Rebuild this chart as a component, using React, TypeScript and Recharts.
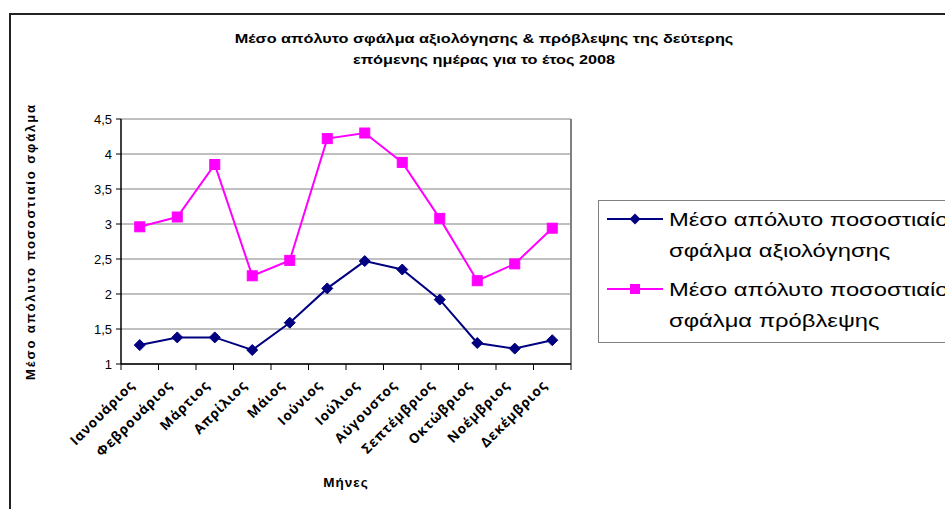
import React from 'react';
import {
  ComposedChart,
  Line,
  XAxis,
  YAxis,
  CartesianGrid,
  ReferenceLine,
  Legend,
} from 'recharts';

const months = [
  'Ιανουάριος',
  'Φεβρουάριος',
  'Μάρτιος',
  'Απρίλιος',
  'Μάιος',
  'Ιούνιος',
  'Ιούλιος',
  'Αύγουστος',
  'Σεπτέμβριος',
  'Οκτώβριος',
  'Νοέμβριος',
  'Δεκέμβριος',
];

const evaluationError = [1.27, 1.38, 1.38, 1.2, 1.59, 2.08, 2.47, 2.35, 1.92, 1.3, 1.22, 1.34];
const forecastError = [2.96, 3.1, 3.85, 2.26, 2.48, 4.22, 4.3, 3.88, 3.08, 2.19, 2.43, 2.94];

const yTicks = [1, 1.5, 2, 2.5, 3, 3.5, 4, 4.5];
const boundaryTicks = [0, 1, 2, 3, 4, 5, 6, 7, 8, 9, 10, 11, 12];

const titleLines = [
  'Μέσο απόλυτο σφάλμα αξιολόγησης & πρόβλεψης της δεύτερης',
  'επόμενης ημέρας για το έτος 2008',
];
const yAxisTitle = 'Μέσο απόλυτο ποσοστιαίο σφάλμα';
const xAxisTitle = 'Μήνες';
const evaluationName = 'Μέσο απόλυτο ποσοστιαίο σφάλμα αξιολόγησης';
const forecastName = 'Μέσο απόλυτο ποσοστιαίο σφάλμα πρόβλεψης';

const NAVY = '#000080';
const MAGENTA = '#FF00FF';
const ARIAL = '"Liberation Sans", Arial, sans-serif';

const data = months.map((month, i) => ({
  month,
  pos: i + 0.5,
  evaluation: evaluationError[i],
  forecast: forecastError[i],
}));

// ticks: boundaries (tick marks) plus category centres (labels)
const labelTicks = months.map((_, i) => i + 0.5);
const allXTicks = [...boundaryTicks, ...labelTicks].sort((a, b) => a - b);

const DiamondDot = (props: any) => {
  const { cx, cy, index } = props;
  if (cx == null || cy == null) return null;
  const r = 5.5;
  return (
    <polygon
      key={`d-${index}`}
      points={`${cx},${cy - r} ${cx + r},${cy} ${cx},${cy + r} ${cx - r},${cy}`}
      fill={NAVY}
      stroke={NAVY}
    />
  );
};

const SquareDot = (props: any) => {
  const { cx, cy, index } = props;
  if (cx == null || cy == null) return null;
  const s = 10;
  return (
    <rect
      key={`s-${index}`}
      x={cx - s / 2}
      y={cy - s / 2}
      width={s}
      height={s}
      fill={MAGENTA}
      stroke={MAGENTA}
    />
  );
};

const MonthTick = (props: any) => {
  const { x, y, payload } = props;
  const v = payload.value as number;
  if (Number.isInteger(v)) {
    return <line x1={x} y1={y} x2={x} y2={y + 6} stroke="#000" strokeWidth={1} />;
  }
  const label = months[Math.floor(v)];
  const px = x - 4;
  const py = y + 22;
  return (
    <text
      x={px}
      y={py}
      transform={`rotate(-45, ${px}, ${py})`}
      textAnchor="end"
      fontFamily='"Open Sans", sans-serif'
      fontWeight={700}
      fontSize={13.5}
      letterSpacing={0.9}
      fill="#000"
    >
      {label}
    </text>
  );
};

const LegendSample = ({ kind }: { kind: 'diamond' | 'square' }) => (
  <svg width={56} height={20} style={{ flex: 'none', marginTop: 5 }}>
    <line x1={0} y1={10} x2={56} y2={10} stroke={kind === 'diamond' ? NAVY : MAGENTA} strokeWidth={2} />
    {kind === 'diamond' ? (
      <polygon points="28,4.5 33.5,10 28,15.5 22.5,10" fill={NAVY} />
    ) : (
      <rect x={23} y={5} width={10} height={10} fill={MAGENTA} />
    )}
  </svg>
);

const legendTextStyle: React.CSSProperties = {
  width: 245,
  marginLeft: 6,
  transform: 'scaleX(1.25)',
  transformOrigin: 'left center',
};

const LegendContent = () => (
  <div
    style={{
      border: '1px solid #808080',
      boxSizing: 'border-box',
      width: 400,
      height: 143,
      background: '#fff',
      paddingLeft: 8,
      paddingTop: 3,
      fontFamily: ARIAL,
      fontSize: 19,
      lineHeight: '31px',
      color: '#000',
    }}
  >
    <div style={{ display: 'flex', alignItems: 'flex-start' }}>
      <LegendSample kind="diamond" />
      <div style={legendTextStyle}>{evaluationName}</div>
    </div>
    <div style={{ display: 'flex', alignItems: 'flex-start', marginTop: 8 }}>
      <LegendSample kind="square" />
      <div style={legendTextStyle}>{forecastName}</div>
    </div>
  </div>
);

const TitleLine = ({ x, y, text }: { x: number; y: number; text: string }) => (
  <g transform={`translate(${x}, ${y}) scale(1.25, 1)`}>
    <text
      x={0}
      y={0}
      textAnchor="middle"
      fontFamily={ARIAL}
      fontWeight={700}
      fontSize={13}
      fill="#000"
    >
      {text}
    </text>
  </g>
);

export default function App() {
  return (
    <div
      style={{
        position: 'absolute',
        left: 0,
        top: 0,
        width: 945,
        height: 509,
        overflow: 'hidden',
        background: '#fff',
      }}
    >
      <div
        style={{
          position: 'absolute',
          left: 9,
          top: 13,
          width: 1200,
          height: 1200,
          borderTop: '2px solid #222',
          borderLeft: '2px solid #222',
        }}
      />
      <div style={{ position: 'absolute', left: 0, top: 0 }}>
        <ComposedChart
          width={945}
          height={509}
          data={data}
          margin={{ top: 119, right: 374, bottom: 22, left: 0 }}
        >
          <TitleLine x={484} y={43} text={titleLines[0]} />
          <TitleLine x={484} y={64} text={titleLines[1]} />
          <CartesianGrid vertical={false} stroke="#808080" strokeWidth={1} yAxisId="y" xAxisId="num" />
          <XAxis
            xAxisId="num"
            dataKey="pos"
            type="number"
            domain={[0, 12]}
            ticks={allXTicks}
            interval={0}
            tickSize={0}
            tickMargin={0}
            tickLine={false}
            height={123}
            axisLine={{ stroke: '#000', strokeWidth: 1.5 }}
            tick={<MonthTick />}
            allowDataOverflow
            label={{
              value: xAxisTitle,
              position: 'insideBottom',
              offset: 0,
              style: {
                fontFamily: ARIAL,
                fontWeight: 700,
                fontSize: 13.5,
                letterSpacing: 1,
                fill: '#000',
              },
            }}
          />
          <YAxis
            yAxisId="y"
            domain={[1, 4.5]}
            ticks={yTicks}
            width={121}
            tickSize={5}
            tickMargin={4}
            tickFormatter={(v: number) => String(v).replace('.', ',')}
            tick={{ fontFamily: ARIAL, fontSize: 13, fill: '#000' }}
            axisLine={{ stroke: '#000', strokeWidth: 1.5 }}
            tickLine={{ stroke: '#000' }}
            label={{
              value: yAxisTitle,
              angle: -90,
              position: 'insideLeft',
              offset: 30,
              style: {
                textAnchor: 'middle',
                fontFamily: ARIAL,
                fontWeight: 700,
                fontSize: 13,
                letterSpacing: 1.9,
                fill: '#000',
              },
            }}
          />
          <ReferenceLine x={12} xAxisId="num" yAxisId="y" stroke="#808080" strokeWidth={2} />
          <Legend
            layout="horizontal"
            verticalAlign="middle"
            align="center"
            wrapperStyle={{ left: 598, top: 200, width: 400 }}
            content={() => <LegendContent />}
          />
          <Line
            xAxisId="num"
            yAxisId="y"
            dataKey="evaluation"
            name={evaluationName}
            stroke={NAVY}
            strokeWidth={2}
            dot={<DiamondDot />}
            activeDot={false}
            isAnimationActive={false}
          />
          <Line
            xAxisId="num"
            yAxisId="y"
            dataKey="forecast"
            name={forecastName}
            stroke={MAGENTA}
            strokeWidth={2}
            dot={<SquareDot />}
            activeDot={false}
            isAnimationActive={false}
          />
        </ComposedChart>
      </div>
    </div>
  );
}
